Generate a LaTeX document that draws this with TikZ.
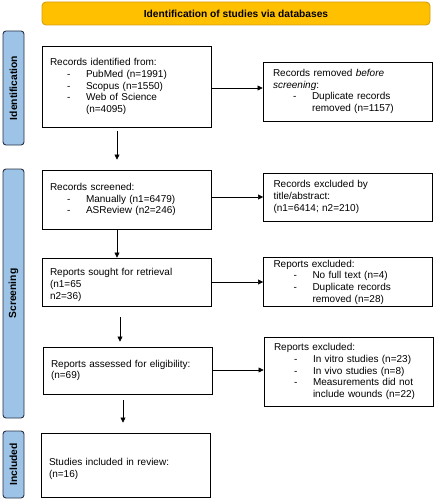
\documentclass[tikz,border=0pt]{standalone}
\usepackage{fontspec}
\setmainfont{Liberation Sans}
\usetikzlibrary{arrows.meta}
\definecolor{hdrfill}{RGB}{255,192,0}
\definecolor{hdrline}{RGB}{214,160,20}
\definecolor{sidefill}{RGB}{157,195,230}
\definecolor{sideline}{RGB}{40,50,70}
\newcommand{\li}[1]{\makebox[36pt][l]{\hspace*{17pt}-}#1}
\newcommand{\ri}[1]{\makebox[39pt][l]{\hspace*{20pt}-}#1}
\begin{document}
\begin{tikzpicture}[x=1pt,y=-1pt,
  bodyfont/.style={font=\fontsize{10}{11.7}\selectfont},
  lbox/.style={draw=black,line width=0.9pt,minimum width=169pt,text width=153pt,align=left,inner xsep=8pt,inner ysep=0pt,bodyfont},
  rbox/.style={draw=black,line width=0.9pt,minimum width=169pt,text width=149pt,align=left,inner xsep=10pt,inner ysep=0pt,bodyfont},
  ltext/.style={text width=153pt,align=left,inner sep=0pt,bodyfont},
  side/.style={draw=sideline,fill=sidefill,line width=0.9pt,rounded corners=3pt,minimum width=21pt,inner sep=0pt},
  sidelabel/.style={rotate=90,font=\fontsize{10.3}{12}\selectfont\bfseries},
  arr/.style={-{Triangle[length=5pt,width=5pt]},line width=0.5pt}]
\useasboundingbox (0,0) rectangle (436,500);
% header
\node[draw=hdrline,fill=hdrfill,line width=0.9pt,rounded corners=4pt,minimum width=388pt,minimum height=23pt,inner sep=0pt,font=\fontsize{10.2}{12}\selectfont\bfseries] (hdr) at (236,13.5) {Identification of studies via databases};
% side bars
\node[side,minimum height=114pt] (sid) at (13.5,88) {};
\node[sidelabel] (sidl) at (sid.center) {Identification};
\node[side,minimum height=249pt] (sscr) at (13.5,293.5) {};
\node[sidelabel] (sscrl) at (sscr.center) {Screening};
\node[side,minimum height=67pt] (sinc) at (13.5,464.5) {};
\node[sidelabel] (sincl) at (sinc.center) {Included};
% left boxes
\node[lbox,minimum height=81pt] (b1) at (126.5,86.5) {Records identified from:\\
\li{PubMed (n=1991)}\\
\li{Scopus (n=1550)}\\
\li{Web of Science}\\
\hspace*{36pt}(n=4095)};
\node[lbox,minimum height=59pt] (b2) at (126.5,199.5) {Records screened:\\
\li{Manually (n1=6479)}\\
\li{ASReview (n2=246)}};
\node[lbox,minimum height=48pt] (b3) at (126.5,282) {};
\node[ltext] (b3t) at ([yshift=-3pt]b3.center) {Reports sought for retrieval\\(n1=65\\n2=36)};
\node[lbox,minimum height=47pt] (b4) at (127.5,370.5) {Reports assessed for eligibility:\\(n=69)};
\node[lbox,minimum height=64pt] (b5) at (125.5,465) {};
\node[ltext] (b5t) at ([yshift=-4pt]b5.center) {Studies included in review:\\(n=16)};
% right boxes
\node[rbox,minimum height=59pt] (r1) at (347.5,91.5) {Records removed \textit{before}\\\textit{screening}:\\
\ri{Duplicate records}\\
\hspace*{39pt}removed (n=1157)};
\node[rbox,minimum height=48pt] (r2) at (348,197) {Records excluded by\\title/abstract:\\(n1=6414; n2=210)};
\node[rbox,minimum height=49pt] (r3) at (348,282) {Reports excluded:\\
\ri{No full text (n=4)}\\
\ri{Duplicate records}\\
\hspace*{39pt}removed (n=28)};
\node[rbox,minimum height=69pt] (r4) at (348.5,371.5) {Reports excluded:\\
\ri{In vitro studies (n=23)}\\
\ri{In vivo studies (n=8)}\\
\ri{Measurements did not}\\
\hspace*{39pt}include wounds (n=22)};
% arrows right
\draw[arr] (b1.east |- 0,88) -- (r1.west |- 0,88);
\draw[arr] (b2.east |- 0,197) -- (r2.west |- 0,197);
\draw[arr] (b3.east |- 0,282) -- (r3.west |- 0,282);
\draw[arr] (b4.east |- 0,370) -- (r4.west |- 0,370);
% arrows down
\coordinate (d1s) at (117,131);
\coordinate (d2s) at (117,233);
\coordinate (d3s) at (120,317);
\coordinate (d4s) at (123,400);
\draw[arr] (d1s) -- ([yshift=10pt]d1s |- b2.north);
\draw[arr] (b2.south -| d2s) -- (d2s |- b3.north);
\draw[arr] (d3s) -- ([yshift=5pt]d3s |- b4.north);
\draw[arr] (d4s) -- ([yshift=10pt]d4s |- b5.north);
\end{tikzpicture}
\end{document}
